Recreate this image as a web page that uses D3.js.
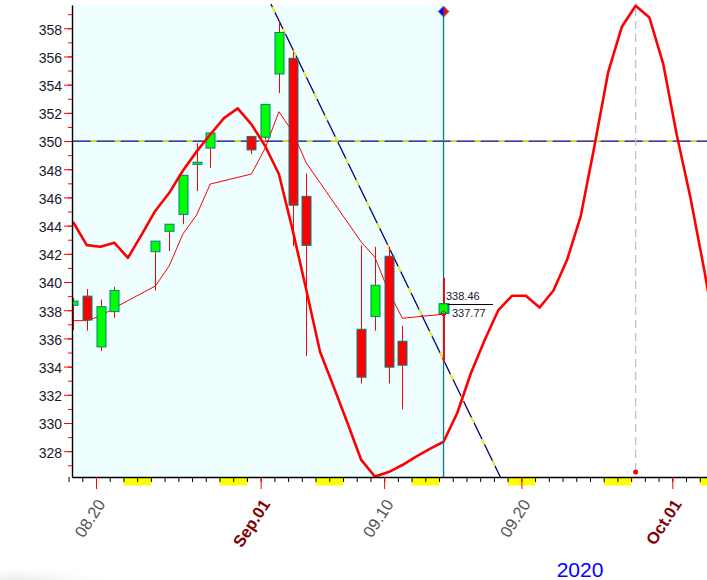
<!DOCTYPE html>
<html><head><meta charset="utf-8">
<script src="https://cdn.jsdelivr.net/npm/d3@7/dist/d3.min.js"></script>
<style>
body{margin:0;background:#fff;}
svg{display:block;font-family:"Liberation Sans",Arial,sans-serif;}
</style>
</head><body>
<svg id="chart" width="707" height="580"></svg>
<script>
// ---------------- data ----------------
const candleDates = ["2020-08-18","2020-08-19","2020-08-20","2020-08-21","2020-08-24","2020-08-25","2020-08-26","2020-08-27","2020-08-28","2020-08-31","2020-09-01","2020-09-02","2020-09-03","2020-09-04","2020-09-08","2020-09-09","2020-09-10","2020-09-11","2020-09-14"];
const opens  = [338.35,339.00,335.40,337.90,342.15,343.60,344.80,348.35,349.50,350.33,350.27,354.76,355.87,346.08,336.65,337.55,341.83,335.80,337.77];
const highs  = [338.90,339.50,338.75,339.65,342.90,344.10,347.60,349.85,350.60,350.35,352.60,358.55,356.34,347.70,342.60,342.50,342.50,336.90,340.30];
const lows   = [336.60,336.55,335.10,337.45,339.40,342.20,344.10,346.45,348.10,349.06,350.10,353.40,342.55,334.75,332.80,336.55,332.80,330.97,334.30];
const closes = [338.65,337.30,338.25,339.40,342.90,344.10,347.57,348.50,350.57,349.37,352.60,357.70,345.45,342.60,333.25,339.77,333.96,334.10,338.46];
const maValues = [337.26,337.26,337.59,338.16,339.72,341.13,343.40,344.75,346.95,347.66,349.50,352.08,350.66,348.44,342.84,341.75,339.33,337.43,337.72];

const cycleStart = "2020-08-18";
const cycleValues = [344.26,342.62,342.50,342.79,341.72,343.36,345.06,346.31,347.89,349.25,350.46,351.63,352.32,351.18,349.65,347.66,343.70,339.43,335.06,332.55,330.00,327.38,326.20,326.52,327.02,327.61,328.16,328.67,330.71,333.55,335.89,338.01,339.03,339.03,338.19,339.38,341.56,344.68,349.65,354.89,358.11,359.60,358.77,355.51,350.43,345.96,340.85,335.30];
const cycleTopDate = "2020-09-28";

const yTickLabels = [328,330,332,334,336,338,340,342,344,346,348,350,352,354,356,358];
const yMinorTicks = [327,328,329,330,331,332,333,334,335,336,337,338,339,340,341,342,343,344,345,346,347,348,349,350,351,352,353,354,355,356,357,358,359];
const xTickDates  = ["2020-08-20","2020-09-01","2020-09-10","2020-09-20","2020-10-01"];
const xTickLabels = ["08.20","Sep.01","09.10","09.20","Oct.01"];
const xTickMonthStart = [false,true,false,false,true];
const weekendStarts = ["2020-08-22","2020-08-29","2020-09-05","2020-09-12","2020-09-19","2020-09-26","2020-10-03"];

const trendDates  = ["2020-09-02","2020-09-10"];
const trendValues = [358.55,342.50];
const levelValue = 350.0;
const lastDate = "2020-09-14";
const lastOpenLabel = "337.77";
const lastCloseLabel = "338.46";
const yearLabel = "2020";

// ---------------- scales ----------------
const P = d3.utcParse("%Y-%m-%d");
const L = 72, R = 707, T = 5, B = 477;
const xa = d3.scaleUtc().domain([P("2020-08-20"), P("2020-10-01")]).range([96, 672.3]);
const x = d3.scaleUtc().domain([xa.invert(L), xa.invert(R)]).range([L, R]);
const OFF = 4.5; // bar centre offset from day tick
const cx = d => x(d) + OFF;
const y = d3.scaleLinear().domain([326.17, 359.65]).range([B, T]);

const svg = d3.select("#chart");
const defs = svg.append("defs");
defs.append("clipPath").attr("id","plotclip").append("rect")
  .attr("x",L).attr("y",T-1).attr("width",R-L).attr("height",B-T+1);
const rg = defs.append("radialGradient").attr("id","shadow");
rg.append("stop").attr("offset","0%").attr("stop-color","#c8c8c8").attr("stop-opacity",0.9);
rg.append("stop").attr("offset","100%").attr("stop-color","#ffffff").attr("stop-opacity",0);
svg.append("ellipse").attr("cx",15).attr("cy",590).attr("rx",110).attr("ry",26).attr("fill","url(#shadow)");

// background of past region
svg.append("rect").attr("x",L).attr("y",T)
  .attr("width",cx(P(lastDate))-L).attr("height",B-T).attr("fill","#efffff");

const plot = svg.append("g").attr("clip-path","url(#plotclip)");

function dashedLine(g, x1,y1,x2,y2, offset){
  g.append("line").attr("x1",x1).attr("y1",y1).attr("x2",x2).attr("y2",y2)
    .attr("stroke","#000080").attr("stroke-width",1.3);
  g.append("line").attr("x1",x1).attr("y1",y1).attr("x2",x2).attr("y2",y2)
    .attr("stroke","#ffff00").attr("stroke-width",1.6)
    .attr("stroke-dasharray","6,18").attr("stroke-dashoffset",offset);
}
dashedLine(plot, L, y(levelValue), R, y(levelValue), 5.3);

// trend line (extended through two highs)
const td0 = P(trendDates[0]), td1 = P(trendDates[1]);
const slope = (trendValues[1]-trendValues[0])/(td1-td0);
const ext0 = P("2020-08-31"), ext1 = P("2020-09-25");
const tv = d => trendValues[0] + slope*(d - td0);
dashedLine(plot, cx(ext0), y(tv(ext0)), cx(ext1), y(tv(ext1)), 0);

// thin MA line
plot.append("path")
  .datum(candleDates.map((d,i)=>[cx(P(d)), y(maValues[i])]))
  .attr("d", d3.line()).attr("fill","none").attr("stroke","#ff0000").attr("stroke-width",1);

// candles
const cg = plot.append("g");
candleDates.forEach((d,i)=>{
  const xc = Math.round(cx(P(d)))+0.5;
  cg.append("line").attr("x1",xc).attr("x2",xc).attr("y1",y(highs[i])).attr("y2",y(lows[i]))
    .attr("stroke","#ff0000").attr("stroke-width",1);
  const up = closes[i] >= opens[i];
  const top = y(Math.max(opens[i],closes[i])), bot = y(Math.min(opens[i],closes[i]));
  cg.append("rect").attr("x",xc-4.5).attr("y",top).attr("width",9).attr("height",Math.max(1.5,bot-top))
    .attr("fill", up ? "#00ff00" : "#ff0000").attr("stroke","#008080").attr("stroke-width",1);
});

// cycle (thick) line
const cycleDates = d3.utcDay.range(P(cycleStart), d3.utcDay.offset(P(cycleStart), cycleValues.length));
plot.append("path")
  .datum(cycleDates.map((d,i)=>[cx(d), y(cycleValues[i])]))
  .attr("d", d3.line()).attr("fill","none").attr("stroke","#ff0000").attr("stroke-width",2.6)
  .attr("stroke-linejoin","round");

// vertical marker at last bar
const lx = cx(P(lastDate));
svg.append("line").attr("x1",lx).attr("x2",lx).attr("y1",T+2).attr("y2",B)
  .attr("stroke","#008080").attr("stroke-width",1.3);
const li = candleDates.length-1;
svg.append("line").attr("x1",lx).attr("x2",lx).attr("y1",y(highs[li])).attr("y2",y(lows[li]))
  .attr("stroke","#ff0000").attr("stroke-width",1);
svg.append("rect").attr("x",lx-4.5).attr("y",y(closes[li])).attr("width",9)
  .attr("height",y(opens[li])-y(closes[li])).attr("fill","#00ff00").attr("stroke","#008080");
svg.append("path").attr("d",`M${lx},${y(opens[li])-3}L${lx+3},${y(opens[li])}L${lx},${y(opens[li])+3}L${lx-3},${y(opens[li])}Z`)
  .attr("fill","none").attr("stroke","#ff0000").attr("stroke-width",1);
const dy0 = 11.5;
svg.append("path").attr("d",`M${lx},${dy0-5}L${lx},${dy0+5}L${lx-5},${dy0}Z`).attr("fill","#0000ff");
svg.append("path").attr("d",`M${lx},${dy0-5}L${lx+5},${dy0}L${lx},${dy0+5}Z`).attr("fill","#ff0000");
svg.append("path").attr("d",`M${lx},${dy0-5.5}L${lx+5.5},${dy0}L${lx},${dy0+5.5}L${lx-5.5},${dy0}Z`)
  .attr("fill","none").attr("stroke","#006060").attr("stroke-width",0.8);

// last price labels
svg.append("line").attr("x1",lx+4).attr("x2",493).attr("y1",Math.round(y(closes[li]))+0.5).attr("y2",Math.round(y(closes[li]))+0.5)
  .attr("stroke","#000").attr("stroke-width",1);
svg.append("text").attr("x",446).attr("y",y(closes[li])-3.5).attr("font-size",11).attr("fill","#202030").text(lastCloseLabel);
svg.append("text").attr("x",452).attr("y",y(closes[li])+13.5).attr("font-size",11).attr("fill","#202030").text(lastOpenLabel);

// cycle top marker
const tx = cx(P(cycleTopDate));
svg.append("line").attr("x1",tx).attr("x2",tx).attr("y1",8).attr("y2",B-5)
  .attr("stroke","#c0c0c0").attr("stroke-width",1.3).attr("stroke-dasharray","8,5");
svg.append("circle").attr("cx",tx).attr("cy",B-5).attr("r",2.5).attr("fill","#ff0000");

// ---------------- x axis ----------------
const weekendG = svg.append("g");
weekendStarts.forEach(s=>{
  const d = P(s);
  const x1 = x(d), x2 = Math.min(R, x(d3.utcDay.offset(d,2)));
  weekendG.append("rect").attr("x",x1).attr("y",B+0.5).attr("width",x2-x1).attr("height",8).attr("fill","#ffff00");
});
const minorX = svg.append("g").attr("transform",`translate(0,${B})`)
  .call(d3.axisBottom(x).tickValues(d3.utcDay.range(P("2020-08-18"), P("2020-10-05"))).tickSize(5).tickSizeOuter(0).tickFormat(""));
minorX.select(".domain").attr("stroke","#000").attr("stroke-width",1.6);
minorX.selectAll(".tick line").attr("stroke","#000");
const majorX = svg.append("g").attr("transform",`translate(0,${B})`)
  .call(d3.axisBottom(x).tickValues(xTickDates.map(P)).tickSize(12).tickSizeOuter(0).tickFormat(""));
majorX.select(".domain").remove();
majorX.selectAll(".tick line").attr("stroke","#ff0000");
xTickDates.forEach((d,i)=>{
  const xx = x(P(d));
  svg.append("text").attr("transform",`translate(${xx+10},${B+27}) rotate(-57)`)
    .attr("text-anchor","end").attr("font-size",16.5)
    .attr("font-weight", xTickMonthStart[i] ? "bold" : "normal")
    .attr("fill", xTickMonthStart[i] ? "#800000" : "#555555")
    .text(xTickLabels[i]);
});
svg.append("text").attr("x",580).attr("y",577).attr("text-anchor","middle")
  .attr("font-size",21).attr("fill","#0000ff").text(yearLabel);

// ---------------- y axis ----------------
const minorY = svg.append("g").attr("transform",`translate(${L},0)`)
  .call(d3.axisLeft(y).tickValues(yMinorTicks).tickSize(4).tickSizeOuter(0).tickFormat(""));
minorY.select(".domain").attr("stroke","#000").attr("stroke-width",1.4);
minorY.selectAll(".tick line").attr("stroke","#ff0000");
const majorY = svg.append("g").attr("transform",`translate(${L},0)`)
  .call(d3.axisLeft(y).tickValues(yTickLabels).tickSize(8).tickSizeOuter(0).tickPadding(2));
majorY.select(".domain").remove();
majorY.selectAll(".tick line").attr("stroke","#ff0000");
majorY.selectAll(".tick text").attr("font-size",14).attr("fill","#1a1a2a")
  .attr("font-family","'Liberation Sans',Arial,sans-serif").attr("dy","0.42em");
</script>
</body></html>
